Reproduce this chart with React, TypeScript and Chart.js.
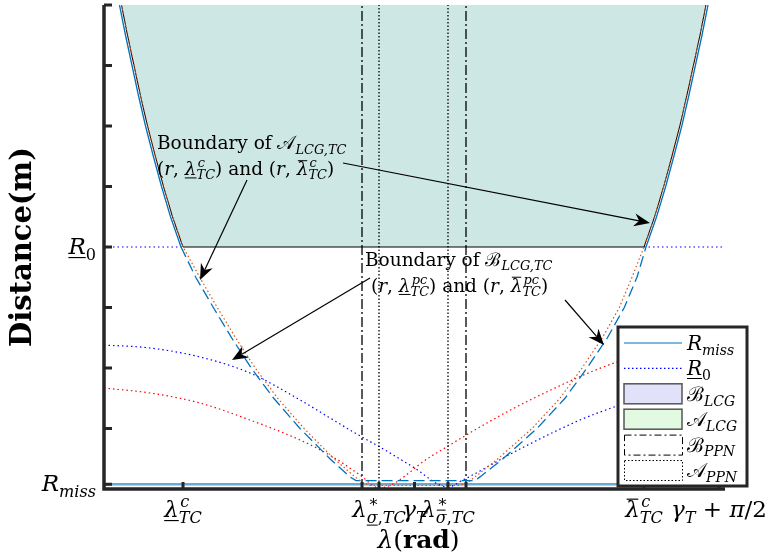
import { useEffect, useRef } from 'react';
import { Chart, registerables } from 'chart.js';

Chart.register(...registerables);

// ---- axis ranges (rad relative to gamma_T, distance in plot units) ----
const X_HALF = 1.6018;
const GAMMA_T = 0;
const GAMMA_PLUS = 1.5708; // gamma_T + pi/2
const Y_MAX = 8;
const R0 = 4;
const R_MISS = 0.08;

// ---- characteristic angles ----
const LAM_C_LO = -1.1942;
const LAM_PPN_B_LO = -0.2708;
const LAM_STAR_LO = -0.1831;
const LAM_STAR_HI = 0.1728;
const LAM_PPN_B_HI = 0.2657;
const LAM_C_HI = 1.1839;

// ---- LCG boundary above R0 (black, filled region) ----
const upperY = [8, 7.5, 7, 6.5, 6, 5.5, 5, 4.5, 4];
const lcgLeftX = [-1.5115, -1.4805, -1.447, -1.4135, -1.3773, -1.3371, -1.2948, -1.2484, -1.1942];
const upperYRise = [4, 4.5, 5, 5.5, 6, 6.5, 7, 7.5, 8];
const lcgRightX = [1.1839, 1.2386, 1.2855, 1.3278, 1.3686, 1.4047, 1.4387, 1.4728, 1.5037];

// ---- B_LCG,TC boundary (blue): solid above R0, dashed below ----
const bndLeftX = [-1.5218, -1.4908, -1.4573, -1.4238, -1.3876, -1.3474, -1.3051, -1.2587, -1.2045];
const bndRightX = [1.1942, 1.2489, 1.2958, 1.3381, 1.3789, 1.415, 1.449, 1.4831, 1.514];
const lowerYFall = [3.5, 3, 2.5, 2, 1.5, 1, 0.5, 0.2, 0.14];
const bndLowLeftX = [-1.1287, -1.0379, -0.9435, -0.8424, -0.7263, -0.5907, -0.4364, -0.3327, -0.3018];
const lowerYRise = [0.14, 0.2, 0.5, 1, 1.5, 2, 2.5, 3, 3.5];
const bndLowRightX = [0.3121, 0.3379, 0.4565, 0.6319, 0.7764, 0.8899, 0.9951, 1.0823, 1.1478];

// ---- pc boundary (orange dotted) below R0 ----
const pcLowLeftY = [3.5, 3, 2.5, 2, 1.5, 1, 0.5, 0.2, 0.1, 0.06];
const pcLowLeftX = [-1.1081, -1.0173, -0.9229, -0.8218, -0.7057, -0.57, -0.4153, -0.3069, -0.2657, -0.2296];
const pcLowRightY = [0.06, 0.1, 0.2, 0.5, 1, 1.5, 2, 2.5, 3, 3.5];
const pcLowRightX = [0.2347, 0.2708, 0.3121, 0.4307, 0.6061, 0.7506, 0.8641, 0.9693, 1.0565, 1.122];

// ---- lower-sigma curve (red dotted) ----
const sigLoX = [-1.6018, -1.3644, -1.1065, -0.8486, -0.5907, -0.4204, -0.2811, -0.1831, 0.0799, 0.374, 0.5958, 1.0446, 1.6018];
const sigLoY = [1.669, 1.587, 1.421, 1.14, 0.81, 0.529, 0.231, 0.017, 0.529, 1.091, 1.471, 2.099, 2.545];

// ---- upper-sigma curve (blue dotted) ----
const sigHiX = [-1.6018, -1.3644, -1.1065, -0.8486, -0.5907, -0.3327, -0.1264, -0.0077, 0.1728, 0.2502, 0.5442, 0.8537, 1.0446, 1.6018];
const sigHiY = [2.38, 2.331, 2.182, 1.917, 1.471, 0.975, 0.595, 0.364, 0.033, 0.149, 0.661, 1.14, 1.372, 1.967];

// ---- R0 level line extent ----
const r0LeftX = [-1.6018, -1.1942];
const r0RightX = [1.1839, 1.5863];

const pts = (xs: number[], ys: number[]) => xs.map((x, i) => ({ x, y: ys[i] }));

// ---- text helpers ----
type Run = { t: string; it?: boolean; bf?: boolean; ul?: boolean; ov?: boolean; sup?: Run[]; sub?: Run[] };
const FF = '"DejaVu Serif", "Liberation Serif", serif';
const CAL_A = '\u{1D49C}';
const CAL_B = '\u212C';

const fontOf = (r: Run, size: number) => `${r.it ? 'italic ' : ''}${r.bf ? 'bold ' : ''}${size}px ${FF}`;

function measureRuns(ctx: CanvasRenderingContext2D, runs: Run[], size: number): number {
  let w = 0;
  for (const r of runs) {
    ctx.font = fontOf(r, size);
    w += ctx.measureText(r.t).width;
    const s = size * 0.7;
    const a = r.sup ? measureRuns(ctx, r.sup, s) + (r.it ? size * 0.06 : 0) : 0;
    const b = r.sub ? measureRuns(ctx, r.sub, s) : 0;
    w += Math.max(a, b);
  }
  return w;
}

function drawRuns(ctx: CanvasRenderingContext2D, runs: Run[], x: number, y: number, size: number): number {
  for (const r of runs) {
    ctx.font = fontOf(r, size);
    const w = ctx.measureText(r.t).width;
    ctx.fillText(r.t, x, y);
    const lw = Math.max(1, size * 0.05);
    if (r.ul) ctx.fillRect(x, y + size * 0.13, w, lw);
    if (r.ov) ctx.fillRect(x + w * 0.1, y - size * 0.8, w * 0.8, lw);
    const s = size * 0.7;
    let sw = 0;
    if (r.sup) sw = Math.max(sw, drawRuns(ctx, r.sup, x + w + (r.it ? size * 0.06 : 0), y - size * 0.42, s) - (x + w));
    if (r.sub) sw = Math.max(sw, drawRuns(ctx, r.sub, x + w, y + size * 0.24, s) - (x + w));
    x += w + sw;
  }
  return x;
}

const TC: Run[] = [{ t: 'TC', it: true }];
const lamLoC: Run = { t: 'λ', it: true, ul: true, sup: [{ t: 'c', it: true }], sub: TC };
const lamHiC: Run = { t: 'λ', it: true, ov: true, sup: [{ t: 'c', it: true }], sub: TC };
const lamLoPC: Run = { t: 'λ', it: true, ul: true, sup: [{ t: 'pc', it: true }], sub: TC };
const lamHiPC: Run = { t: 'λ', it: true, ov: true, sup: [{ t: 'pc', it: true }], sub: TC };

const xTickVals = [LAM_C_LO, LAM_PPN_B_LO, LAM_STAR_LO, GAMMA_T, LAM_STAR_HI, LAM_PPN_B_HI, LAM_C_HI, GAMMA_PLUS];
const xTickLabels: (Run[] | null)[] = [
  [lamLoC],
  null,
  [{ t: 'λ', it: true, sup: [{ t: '∗' }], sub: [{ t: 'σ', it: true, ul: true }, { t: ',' }, { t: 'TC', it: true }] }],
  [{ t: 'γ', it: true, sub: [{ t: 'T', it: true }] }],
  [{ t: 'λ', it: true, sup: [{ t: '∗' }], sub: [{ t: 'σ', it: true, ov: true }, { t: ',' }, { t: 'TC', it: true }] }],
  null,
  [lamHiC],
  [{ t: 'γ', it: true, sub: [{ t: 'T', it: true }] }, { t: ' + ' }, { t: 'π', it: true }, { t: '/2' }],
];

const yTickVals = [R_MISS, 1, 2, 3, R0, 5, 6, 7, Y_MAX];
const yTickLabels: (Run[] | null)[] = [
  [{ t: 'R', it: true, sub: [{ t: 'miss', it: true }] }],
  null, null, null,
  [{ t: 'R', it: true, ul: true, sub: [{ t: '0' }] }],
  null, null, null, null,
];

const xTitle: Run[] = [{ t: 'λ', it: true }, { t: '(' }, { t: 'rad', bf: true }, { t: ')' }];
const yTitle: Run[] = [{ t: 'Distance(m)', bf: true }];

const notes = [
  { x: -1.3283, y: 5.612, runs: [{ t: 'Boundary of ' }, { t: CAL_A, sub: [{ t: 'LCG,TC', it: true }] }] as Run[] },
  { x: -1.3283, y: 5.19, runs: [{ t: '(' }, { t: 'r', it: true }, { t: ', ' }, lamLoC, { t: ') and (' }, { t: 'r', it: true }, { t: ', ' }, lamHiC, { t: ')' }] as Run[] },
  { x: -0.2554, y: 3.686, runs: [{ t: 'Boundary of ' }, { t: CAL_B, sub: [{ t: 'LCG,TC', it: true }] }] as Run[] },
  { x: -0.2244, y: 3.264, runs: [{ t: '(' }, { t: 'r', it: true }, { t: ', ' }, lamLoPC, { t: ') and (' }, { t: 'r', it: true }, { t: ', ' }, lamHiPC, { t: ')' }] as Run[] },
];

const arrows = [
  { from: [-0.864, 5.107], to: [-1.1065, 3.455] },
  { from: [-0.3688, 5.388], to: [1.2148, 4.397] },
  { from: [-0.2296, 3.488], to: [-0.9415, 2.132] },
  { from: [0.7764, 3.124], to: [0.9775, 2.38] },
];

const legendItems: { runs: Run[]; kind: string }[] = [
  { runs: [{ t: 'R', it: true, sub: [{ t: 'miss', it: true }] }], kind: 'rmiss' },
  { runs: [{ t: 'R', it: true, ul: true, sub: [{ t: '0' }] }], kind: 'r0' },
  { runs: [{ t: CAL_B, sub: [{ t: 'LCG', it: true }] }], kind: 'bLcg' },
  { runs: [{ t: CAL_A, sub: [{ t: 'LCG', it: true }] }], kind: 'aLcg' },
  { runs: [{ t: CAL_B, sub: [{ t: 'PPN', it: true }] }], kind: 'bPpn' },
  { runs: [{ t: CAL_A, sub: [{ t: 'PPN', it: true }] }], kind: 'aPpn' },
];

const AXIS_COLOR = '#262626';
const FILL_COLOR = 'rgb(205,231,228)';
const M_BLUE = '#0072BD';
const M_ORANGE = '#D95319';

function drawArrow(ctx: CanvasRenderingContext2D, x0: number, y0: number, x1: number, y1: number) {
  const dx = x1 - x0, dy = y1 - y0;
  const L = Math.hypot(dx, dy);
  const ux = dx / L, uy = dy / L, nx = -uy, ny = ux;
  const HL = 16, HW = 6.5, NOTCH = 5;
  const bx = x1 - ux * HL, by = y1 - uy * HL;
  const mx = x1 - ux * (HL - NOTCH), my = y1 - uy * (HL - NOTCH);
  ctx.beginPath();
  ctx.moveTo(x0, y0);
  ctx.lineTo(mx, my);
  ctx.stroke();
  ctx.beginPath();
  ctx.moveTo(x1, y1);
  ctx.lineTo(bx + nx * HW, by + ny * HW);
  ctx.lineTo(mx, my);
  ctx.lineTo(bx - nx * HW, by - ny * HW);
  ctx.closePath();
  ctx.fill();
}

const decorations = {
  id: 'decorations',
  afterDraw(chart: any) {
    const { ctx, chartArea: a, scales } = chart;
    const xs = scales.x, ys = scales.y;
    ctx.save();
    ctx.textAlign = 'left';
    ctx.textBaseline = 'alphabetic';

    // axes
    ctx.strokeStyle = AXIS_COLOR;
    ctx.lineWidth = 3.5;
    ctx.beginPath();
    ctx.moveTo(a.left, a.top);
    ctx.lineTo(a.left, a.bottom + 1.75);
    ctx.moveTo(a.left - 1.75, a.bottom);
    ctx.lineTo(a.right, a.bottom);
    ctx.stroke();

    // inward ticks
    ctx.lineWidth = 3;
    ctx.beginPath();
    yTickVals.forEach((v) => {
      const py = ys.getPixelForValue(v);
      ctx.moveTo(a.left, py);
      ctx.lineTo(a.left + 8, py);
    });
    xTickVals.forEach((v) => {
      const px = xs.getPixelForValue(v);
      ctx.moveTo(px, a.bottom);
      ctx.lineTo(px, a.bottom - 7);
    });
    ctx.stroke();

    // tick labels
    ctx.fillStyle = '#000';
    const TS = 23;
    xTickVals.forEach((v, i) => {
      const lab = xTickLabels[i];
      if (!lab) return;
      const px = xs.getPixelForValue(v);
      const w = measureRuns(ctx, lab, TS);
      drawRuns(ctx, lab, px - w / 2, a.bottom + 28, TS);
    });
    yTickVals.forEach((v, i) => {
      const lab = yTickLabels[i];
      if (!lab) return;
      const py = ys.getPixelForValue(v);
      const w = measureRuns(ctx, lab, TS);
      drawRuns(ctx, lab, a.left - 8 - w, py + 7, TS);
    });

    // axis titles
    const XS = 25;
    const xw = measureRuns(ctx, xTitle, XS);
    drawRuns(ctx, xTitle, (a.left + a.right) / 2 + 4 - xw / 2, a.bottom + 59, XS);
    const YS = 29;
    const yw = measureRuns(ctx, yTitle, YS);
    ctx.save();
    ctx.translate(a.left - 73, (a.top + a.bottom) / 2);
    ctx.rotate(-Math.PI / 2);
    drawRuns(ctx, yTitle, -yw / 2, 0, YS);
    ctx.restore();

    // annotations
    const NS = 18.5;
    notes.forEach((n) => {
      drawRuns(ctx, n.runs, xs.getPixelForValue(n.x), ys.getPixelForValue(n.y), NS);
    });
    ctx.strokeStyle = '#000';
    ctx.lineWidth = 1.2;
    arrows.forEach((ar) => {
      drawArrow(
        ctx,
        xs.getPixelForValue(ar.from[0]), ys.getPixelForValue(ar.from[1]),
        xs.getPixelForValue(ar.to[0]), ys.getPixelForValue(ar.to[1]),
      );
    });

    // legend
    const lx0 = a.right - 107, ly0 = a.bottom - 162, lx1 = a.right + 22, ly1 = a.bottom - 3;
    ctx.fillStyle = '#fff';
    ctx.fillRect(lx0, ly0, lx1 - lx0, ly1 - ly0);
    ctx.strokeStyle = AXIS_COLOR;
    ctx.lineWidth = 3;
    ctx.strokeRect(lx0, ly0, lx1 - lx0, ly1 - ly0);
    const sx0 = lx0 + 6, sx1 = lx0 + 64;
    legendItems.forEach((it, i) => {
      const cy = ly0 + 16 + i * 25.4;
      ctx.save();
      if (it.kind === 'rmiss' || it.kind === 'r0') {
        ctx.strokeStyle = it.kind === 'rmiss' ? M_BLUE : '#0000FF';
        ctx.lineWidth = 1.2;
        ctx.setLineDash(it.kind === 'r0' ? [1.5, 2.5] : []);
        ctx.beginPath();
        ctx.moveTo(sx0, cy);
        ctx.lineTo(sx1, cy);
        ctx.stroke();
      } else {
        const rx = sx0, ry = cy - 10, rw = sx1 - sx0, rh = 20;
        if (it.kind === 'bLcg' || it.kind === 'aLcg') {
          ctx.fillStyle = it.kind === 'bLcg' ? '#e1e1fa' : '#e1fae1';
          ctx.fillRect(rx, ry, rw, rh);
          ctx.strokeStyle = '#555';
          ctx.lineWidth = 1.5;
          ctx.strokeRect(rx, ry, rw, rh);
        } else {
          ctx.strokeStyle = '#000';
          ctx.lineWidth = 1;
          ctx.setLineDash(it.kind === 'bPpn' ? [7, 3, 2, 3] : [1.5, 2]);
          ctx.strokeRect(rx + 0.5, ry + 0.5, rw, rh);
        }
      }
      ctx.restore();
      ctx.fillStyle = '#000';
      drawRuns(ctx, it.runs, sx1 + 5, cy + 7, 20);
    });

    ctx.restore();
  },
};

const vline = (x: number, dash: number[]) => ({
  data: [{ x, y: 0 }, { x, y: Y_MAX }],
  borderColor: '#000',
  borderWidth: 1.3,
  borderDash: dash,
});

export default function App() {
  const ref = useRef<HTMLCanvasElement>(null);
  useEffect(() => {
    const blueData = [
      ...pts(bndLeftX, upperY),
      ...pts(bndLowLeftX, lowerYFall),
      ...pts(bndLowRightX, lowerYRise),
      ...pts(bndRightX, upperYRise),
    ];
    const orangeData = [
      ...pts(lcgLeftX, upperY),
      ...pts(pcLowLeftX, pcLowLeftY),
      ...pts(pcLowRightX, pcLowRightY),
      ...pts(lcgRightX, upperYRise),
    ];
    const blackData = [...pts(lcgLeftX, upperY), ...pts(lcgRightX, upperYRise)];
    const r0Data = [
      ...r0LeftX.map((x) => ({ x, y: R0 })),
      { x: 0, y: null as any },
      ...r0RightX.map((x) => ({ x, y: R0 })),
    ];

    const chart = new Chart(ref.current as HTMLCanvasElement, {
      type: 'scatter',
      data: {
        datasets: [
          {
            data: orangeData,
            borderColor: M_ORANGE,
            borderWidth: 1.2,
            borderDash: [1.5, 2.5],
          },
          {
            data: blackData,
            borderColor: '#000',
            borderWidth: 1,
            fill: 'end',
            backgroundColor: FILL_COLOR,
          },
          {
            data: blueData,
            borderColor: M_BLUE,
            borderWidth: 1.3,
            segment: {
              borderDash: (c: any) => (c.p0.parsed.y <= R0 + 1e-6 && c.p1.parsed.y <= R0 + 1e-6 ? [11, 5] : undefined),
            },
          },
          vline(LAM_PPN_B_LO, [10, 3, 2, 3]),
          vline(LAM_PPN_B_HI, [10, 3, 2, 3]),
          vline(LAM_STAR_LO, [1.5, 2]),
          vline(LAM_STAR_HI, [1.5, 2]),
          {
            data: pts(sigLoX, sigLoY),
            borderColor: '#FF0000',
            borderWidth: 1.2,
            borderDash: [1.5, 3],
            cubicInterpolationMode: 'monotone',
          },
          {
            data: pts(sigHiX, sigHiY),
            borderColor: '#0000FF',
            borderWidth: 1.2,
            borderDash: [1.5, 3],
            cubicInterpolationMode: 'monotone',
          },
          {
            data: r0Data,
            borderColor: '#0000FF',
            borderWidth: 1.2,
            borderDash: [1.5, 3],
            spanGaps: false,
          },
          {
            data: [{ x: -X_HALF, y: R_MISS }, { x: X_HALF, y: R_MISS }],
            borderColor: 'rgba(0,114,189,0.6)',
            borderWidth: 2.5,
          },
        ].map((d: any) => ({ showLine: true, pointRadius: 0, pointHoverRadius: 0, fill: false, ...d })),
      },
      options: {
        animation: false,
        responsive: false,
        events: [],
        layout: { padding: { left: 104, right: 47, top: 5, bottom: 71 } },
        scales: {
          x: { type: 'linear', min: -X_HALF, max: X_HALF, display: false },
          y: { type: 'linear', min: 0, max: Y_MAX, display: false },
        },
        plugins: {
          legend: { display: false },
          tooltip: { enabled: false },
          filler: { drawTime: 'beforeDatasetsDraw', propagate: false },
        } as any,
      },
      plugins: [decorations],
    } as any);
    return () => chart.destroy();
  }, []);
  return (
    <canvas
      ref={ref}
      width={772}
      height={560}
      style={{ position: 'fixed', left: 0, top: 0, width: 772, height: 560, display: 'block', background: '#fff' }}
    />
  );
}
